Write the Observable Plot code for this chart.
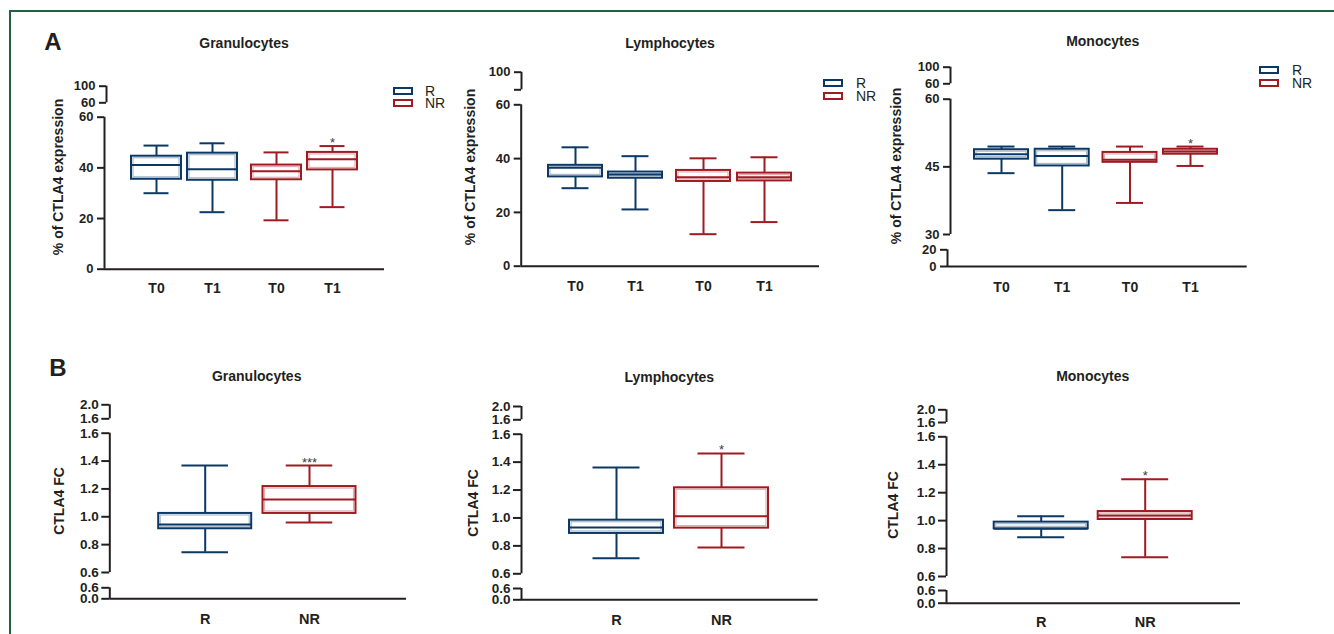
<!DOCTYPE html>
<html><head><meta charset="utf-8">
<script src="https://cdn.jsdelivr.net/npm/d3@7"></script>
<script src="https://cdn.jsdelivr.net/npm/@observablehq/plot@0.6"></script>
<style>
html,body{margin:0;padding:0;background:#fff;}
#fig{position:relative;width:1334px;height:634px;overflow:hidden;background:#fff;font-family:'Liberation Sans',Arial,sans-serif;color:#231f20;}
#fig svg{position:absolute;left:0;top:0;}
.seg line,.seg path{stroke-width:2px;}
.lbl{position:absolute;white-space:nowrap;transform:translate(-50%,-50%);font-weight:bold;line-height:1;}
.ylab{position:absolute;white-space:nowrap;transform:translate(-50%,-50%) rotate(-90deg);font-weight:bold;font-size:14px;line-height:1;}
.sw{position:absolute;width:20px;height:8px;box-sizing:border-box;border:2px solid;}
.lt{position:absolute;font-size:14px;line-height:11px;height:11px;transform:translateY(-50%);}
#frame{position:absolute;left:9px;top:10px;right:-5px;bottom:-5px;border-top:2.5px solid #22603f;border-left:2.5px solid #22603f;}
</style></head><body><div id="fig"><div id="frame"></div></div>
<script>
// ---------------- DATA ----------------
const cellTypes = ["Granulocytes", "Lymphocytes", "Monocytes"];
const responseGroups = ["R", "NR"];
const timePoints = ["T0", "T1"];
const panelLetters = ["A", "B"];
const yLabelA = "% of CTLA4 expression";
const yLabelB = "CTLA4 FC";

// Panel A: [min, q1, median, q3, max]; rows: R T0, R T1, NR T0, NR T1
const granulocytesA = [[30.0, 35.5, 41.1, 44.6, 48.8], [22.5, 35.1, 39.5, 45.8, 49.7], [19.3, 35.3, 38.7, 41.1, 46.1], [24.5, 39.2, 43.4, 46.1, 48.6]];
const lymphocytesA = [[29.0, 33.2, 36.6, 37.5, 44.2], [21.1, 32.7, 34.1, 35.0, 40.9], [11.9, 31.5, 33.1, 35.6, 40.1], [16.4, 31.7, 33.1, 34.6, 40.5]];
const monocytesA = [[43.6, 46.7, 47.8, 48.8, 49.5], [35.4, 45.2, 47.4, 48.9, 49.5], [37.0, 46.0, 46.6, 48.2, 49.5], [45.2, 47.8, 48.4, 48.9, 49.5]];
const significanceA = [["", "", "", "*"], ["", "", "", ""], ["", "", "", "*"]];

// Panel B: [min, q1, median, q3, max]; rows: R, NR
const granulocytesB = [[0.746, 0.914, 0.945, 1.024, 1.368], [0.959, 1.024, 1.124, 1.217, 1.368]];
const lymphocytesB = [[0.712, 0.889, 0.932, 0.984, 1.361], [0.788, 0.927, 1.013, 1.216, 1.462]];
const monocytesB = [[0.881, 0.941, 0.942, 0.989, 1.032], [0.738, 1.008, 1.037, 1.065, 1.297]];
const significanceB = [["", "***"], ["", "*"], ["", "*"]];

// Broken-axis tick values and labels
const ticksA_upper = [60, 100];
const labelsA_upper = ["60", "100"];
const labelsA_upperLymph = ["", "100"];
const ticksA_main = [0, 20, 40, 60];
const ticksA_monoUpper = [60, 100];
const ticksA_monoMid = [30, 45, 60];
const ticksA_monoLow = [0, 20];
const ticksB_upper = [1.6, 2.0];
const ticksB_main = [0.6, 0.8, 1.0, 1.2, 1.4, 1.6];
const ticksB_low = [0, 0.6];

// ---------------- STYLE / LAYOUT ----------------
const W = 1334, H = 634;
const INK = "#231f20";
const groupColors = ["#0c3866", "#9e1b22"];
const FONT = "'Liberation Sans',Arial,sans-serif";
const fig = document.getElementById("fig");

function fmt1(d) { return d.toFixed(1); }
function seg(domain, range, x, ticks, labels, baseline) { return {domain, range, x, ticks, labels, baseline}; }

const layoutA = [
  {stats: granulocytesA, title: [244, 43], yl: [58, 177], right: 384, base: 268.7, labelY: 287,
   centers: [[156, 212], [276, 332]], bw: 50, legend: [393, 425, 90.5, 102.5],
   segs: [seg([0, 60], [268.7, 116.7], 104, ticksA_main, ticksA_main.map(String), true),
          seg([60, 100], [102.3, 85.7], 106, ticksA_upper, labelsA_upper, false)]},
  {stats: lymphocytesA, title: [670, 43], yl: [470, 167], right: 819, base: 265.7, labelY: 285.7,
   centers: [[575, 635], [703, 764]], bw: 54, legend: [823, 856, 83.3, 95.5],
   segs: [seg([0, 60], [265.7, 104.3], 520.7, ticksA_main, ticksA_main.map(String), true),
          seg([60, 100], [89.3, 71.7], 521, ticksA_upper, labelsA_upperLymph, false)]},
  {stats: monocytesA, title: [1102.7, 41], yl: [896, 166], right: 1246.7, base: 266, labelY: 286.7,
   centers: [[1001, 1061.7], [1129.5, 1190]], bw: 54, legend: [1259, 1292, 70, 83.3],
   segs: [seg([30, 60], [234, 98.7], 950, ticksA_monoMid, ticksA_monoMid.map(String), false),
          seg([0, 20], [266, 249.3], 947, ticksA_monoLow, ticksA_monoLow.map(String), true),
          seg([60, 100], [83.3, 66.7], 950, ticksA_monoUpper, ticksA_monoUpper.map(String), false)]}
];
const layoutB = [
  {stats: granulocytesB, title: [256.7, 376], yl: [59.3, 501], right: 406, base: 598.3, labelY: 618,
   centers: [204.7, 309], bw: 93,
   segs: [seg([0.6, 1.6], [572, 432.7], 109.3, ticksB_main, ticksB_main.map(fmt1), false),
          seg([0, 0.6], [598.3, 587.3], 109.3, ticksB_low, ticksB_low.map(fmt1), true),
          seg([1.6, 2.0], [418.3, 404.3], 109.3, ticksB_upper, ticksB_upper.map(fmt1), false)]},
  {stats: lymphocytesB, title: [669.3, 376.7], yl: [472.7, 503], right: 817.7, base: 599.3, labelY: 619.3,
   centers: [616, 721], bw: 94,
   segs: [seg([0.6, 1.6], [573.3, 433.7], 521, ticksB_main, ticksB_main.map(fmt1), false),
          seg([0, 0.6], [599.3, 588], 521, ticksB_low, ticksB_low.map(fmt1), true),
          seg([1.6, 2.0], [419.3, 406], 521, ticksB_upper, ticksB_upper.map(fmt1), false)]},
  {stats: monocytesB, title: [1092.7, 376], yl: [893.3, 505], right: 1240, base: 602.7, labelY: 621.7,
   centers: [1040.7, 1144.7], bw: 94,
   segs: [seg([0.6, 1.6], [576, 436.3], 946, ticksB_main, ticksB_main.map(fmt1), false),
          seg([0, 0.6], [602.7, 590], 946, ticksB_low, ticksB_low.map(fmt1), true),
          seg([1.6, 2.0], [422, 409.3], 946, ticksB_upper, ticksB_upper.map(fmt1), false)]}
];

function addHTML(cls, text, x, y, extra) {
  const d = document.createElement("div");
  d.className = cls; d.textContent = text;
  d.style.left = x + "px"; d.style.top = y + "px";
  if (extra) Object.assign(d.style, extra);
  fig.appendChild(d);
  return d;
}

function segmentLayer(s, right, fontSize, tickSize, tickPadding) {
  const labelOf = new Map(s.ticks.map((t, i) => [t, s.labels[i]]));
  const marks = [Plot.ruleX([0], {y1: s.domain[0], y2: s.domain[1], stroke: INK, strokeWidth: 2})];
  if (s.baseline) marks.push(Plot.ruleY([0], {stroke: INK, strokeWidth: 2}));
  const svg = Plot.plot({
    width: W, height: H,
    marginLeft: s.x, marginRight: s.baseline ? W - right : W - s.x - 1, marginTop: 0, marginBottom: 0,
    style: `background:transparent;overflow:visible;color:${INK};font:bold ${fontSize}px ${FONT};`,
    x: {domain: [0, 1], axis: null},
    y: {domain: s.domain, range: s.range, ticks: s.ticks, tickFormat: d => labelOf.get(d) ?? "", tickSize, tickPadding, label: null},
    marks
  });
  svg.classList.add("seg");
  fig.appendChild(svg);
}

function boxLayer(rows, keys, centers, bw, s, base, labelY, fontSize) {
  const step = centers[1] - centers[0];
  const pad = 1 - bw / step;
  const r0 = centers[0] - step * (1 + pad) / 2;
  const r1 = centers[centers.length - 1] + step * (1 + pad) / 2;
  const capInset = bw * 0.25;
  const svg = Plot.plot({
    width: W, height: H, marginTop: 0, marginLeft: 0, marginRight: 0, marginBottom: H - base,
    style: `background:transparent;overflow:visible;color:${INK};font:bold ${fontSize}px ${FONT};`,
    x: {domain: keys, range: [r0, r1], padding: pad, round: false, tickSize: 0, tickPadding: labelY - base - 0.35 * fontSize, label: null},
    y: {domain: s.domain, range: s.range, axis: null},
    color: {domain: responseGroups, range: groupColors},
    marks: [
      Plot.ruleX(rows, {x: "key", y1: "q3", y2: "max", stroke: "group", strokeWidth: 2}),
      Plot.ruleX(rows, {x: "key", y1: "min", y2: "q1", stroke: "group", strokeWidth: 2}),
      Plot.tickY(rows, {x: "key", y: "max", stroke: "group", strokeWidth: 2, insetLeft: capInset, insetRight: capInset}),
      Plot.tickY(rows, {x: "key", y: "min", stroke: "group", strokeWidth: 2, insetLeft: capInset, insetRight: capInset}),
      Plot.barY(rows, {x: "key", y1: "q1", y2: "q3", fill: "white", stroke: "group", strokeWidth: 2}),
      Plot.barY(rows, {x: "key", y1: "q1", y2: "q3", fill: "none", stroke: "group", strokeOpacity: 0.35, strokeWidth: 1.2, inset: 2}),
      Plot.tickY(rows, {x: "key", y: "median", stroke: "group", strokeWidth: 2}),
      Plot.text(rows.filter(d => d.sig), {x: "key", y: "max", text: "sig", lineAnchor: "bottom", dy: 1, fontSize: 13, fontWeight: "normal", fill: "#3a3a3a"})
    ]
  });
  fig.appendChild(svg);
}

function toRow(stat, key, group, sig) {
  return {key, group, min: stat[0], q1: stat[1], median: stat[2], q3: stat[3], max: stat[4], sig};
}

// Panel letters
addHTML("lbl", panelLetters[0], 53, 41.5, {fontSize: "24px"});
addHTML("lbl", panelLetters[1], 58, 368, {fontSize: "24px"});

// Panel A
layoutA.forEach((p, ci) => {
  p.segs.forEach(s => segmentLayer(s, p.right, 13, 7, 4));
  responseGroups.forEach((g, gi) => {
    const rows = timePoints.map((t, ti) => toRow(p.stats[gi * 2 + ti], t, g, significanceA[ci][gi * 2 + ti]));
    boxLayer(rows, timePoints, p.centers[gi], p.bw, p.segs[0], p.base, p.labelY, 14);
  });
  addHTML("lbl", cellTypes[ci], p.title[0], p.title[1], {fontSize: "14px"});
  addHTML("ylab", yLabelA, p.yl[0], p.yl[1]);
  const [sx, tx, y1, y2] = p.legend;
  responseGroups.forEach((g, gi) => {
    const y = gi === 0 ? y1 : y2;
    addHTML("sw", "", sx, y - 4, {borderColor: groupColors[gi]});
    addHTML("lt", g, tx, y);
  });
});

// Panel B
layoutB.forEach((p, ci) => {
  p.segs.forEach(s => segmentLayer(s, p.right, 13.5, 8, 3));
  const rows = responseGroups.map((g, gi) => toRow(p.stats[gi], g, g, significanceB[ci][gi]));
  boxLayer(rows, responseGroups, p.centers, p.bw, p.segs[0], p.base, p.labelY, 14.5);
  addHTML("lbl", cellTypes[ci], p.title[0], p.title[1], {fontSize: "14px"});
  addHTML("ylab", yLabelB, p.yl[0], p.yl[1]);
});
</script></body></html>
